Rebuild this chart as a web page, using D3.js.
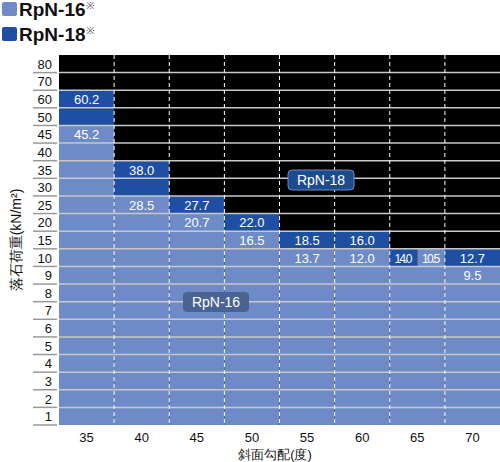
<!DOCTYPE html>
<html><head><meta charset="utf-8">
<script src="https://cdn.jsdelivr.net/npm/d3@7"></script>
<style>body{margin:0;background:#fff}text{font-family:"Liberation Sans",Arial,sans-serif}</style>
</head><body><svg id="c" width="500" height="462"></svg>
<script>
const rowCats = [80,70,60,50,45,40,35,30,25,20,15,10,9,8,7,6,5,4,3,2,1];
const slopes = [35,40,45,50,55,60,65,70];
const rpn16 = [45.2,28.5,20.7,16.5,13.7,12.0,10.5,9.5];
const rpn18 = [60.2,38.0,27.7,22.0,18.5,16.0,14.0,12.7];
const seriesNames = ["RpN-16","RpN-18"];
const c16 = "#6f8bc7", c18 = "#1f4fa3";

const svg = d3.select("#c");
const x = d3.scaleBand().domain(slopes).range([59,500]);
const y = d3.scaleBand().domain(rowCats).range([55,425]);
const asc = rowCats.slice().sort((a,b)=>a-b);
const rowOf = v => asc.filter(c=>c<=v).pop();
const idx = r => asc.indexOf(r);

svg.append("rect").attr("x",59).attr("y",55).attr("width",441).attr("height",370).attr("fill","#000");

slopes.forEach((s,i)=>{
  const r16 = rowOf(rpn16[i]), r18 = rowOf(rpn18[i]);
  const x0 = x(s), w = x.bandwidth();
  asc.forEach(r=>{
    let col=null;
    if (r16===r18){
      if (idx(r)<idx(r16)) col=c16;
      else if (r===r16){
        svg.append("rect").attr("x",x0).attr("y",y(r)).attr("width",w/2).attr("height",y.bandwidth()).attr("fill",c18);
        svg.append("rect").attr("x",x0+w/2).attr("y",y(r)).attr("width",w/2).attr("height",y.bandwidth()).attr("fill",c16);
      }
    } else {
      if (idx(r)<=idx(r16)) col=c16; else if (idx(r)<=idx(r18)) col=c18;
    }
    if (col) svg.append("rect").attr("x",x0).attr("y",y(r)).attr("width",w).attr("height",y.bandwidth()).attr("fill",col);
  });
});
// horizontal lines
rowCats.slice(1).forEach(r=>{
  svg.append("line").attr("x1",59).attr("x2",500).attr("y1",y(r)).attr("y2",y(r)).attr("stroke","#c8c8c8").attr("stroke-width",1.5);
});
// vertical dashed lines
slopes.slice(1).forEach(s=>{
  svg.append("line").attr("x1",x(s)).attr("x2",x(s)).attr("y1",55).attr("y2",425).attr("stroke","#fff").attr("stroke-width",1).attr("stroke-dasharray","4,3");
});
// value labels
slopes.forEach((s,i)=>{
  const r16 = rowOf(rpn16[i]), r18 = rowOf(rpn18[i]);
  const split = r16===r18;
  const cx = x(s)+x.bandwidth()/2;
  const fs = split?12:13;
  svg.append("text").attr("x",split?cx+x.bandwidth()/4:cx).attr("y",y(r16)+y.bandwidth()/2+5)
    .attr("text-anchor","middle").attr("fill","#fff").attr("font-size",fs).attr("textLength",split?18:null).text(rpn16[i].toFixed(1));
  svg.append("text").attr("x",split?cx-x.bandwidth()/4:cx).attr("y",y(r18)+y.bandwidth()/2+5)
    .attr("text-anchor","middle").attr("fill","#fff").attr("font-size",fs).attr("textLength",split?18:null).text(rpn18[i].toFixed(1));
});
// y axis labels and ticks
rowCats.forEach(r=>{
  svg.append("text").attr("x",52).attr("y",y(r)+y.bandwidth()/2+5).attr("text-anchor","end").attr("font-size",13).attr("fill","#111").text(r);
  svg.append("line").attr("x1",33).attr("x2",57).attr("y1",y(r)+y.bandwidth()).attr("y2",y(r)+y.bandwidth()).attr("stroke","#999").attr("stroke-width",1.5);
});
// x labels
slopes.forEach(s=>{
  svg.append("text").attr("x",x(s)+x.bandwidth()/2).attr("y",442).attr("text-anchor","middle").attr("font-size",13).attr("fill","#111").text(s);
});
svg.append("text").attr("x",275).attr("y",459).attr("text-anchor","middle").attr("font-size",13).attr("font-family","Noto Sans CJK JP").attr("fill","#111").text("斜面勾配(度)");
svg.append("text").attr("transform","translate(21,240) rotate(-90)").attr("text-anchor","middle").attr("font-size",14).attr("font-family","Noto Sans CJK JP").attr("fill","#111").text("落石荷重(kN/m²)");

// in-chart series tags
function tag(cx,cy,txt,fill,stroke){
  svg.append("rect").attr("x",cx-33).attr("y",cy-10).attr("width",66).attr("height",20).attr("rx",4).attr("fill",fill).attr("stroke",stroke);
  svg.append("text").attr("x",cx).attr("y",cy+5).attr("text-anchor","middle").attr("font-size",14).attr("fill","#fff").text(txt);
}
tag(321,180,seriesNames[1],"#1d4b8c","#6f8bc7");
tag(216,302,seriesNames[0],"#4a6395","none");

// legend
[[c16,seriesNames[0],2],[c18,seriesNames[1],27]].forEach(([c,t,yy])=>{
  svg.append("rect").attr("x",2).attr("y",yy).attr("width",15).attr("height",14).attr("rx",2).attr("fill",c);
  const tx = svg.append("text").attr("x",19).attr("y",yy+14).attr("font-size",19).attr("font-weight","bold").attr("fill","#111");
  tx.append("tspan").text(t);
  tx.append("tspan").attr("dy",-7).attr("font-size",10).attr("font-weight","normal").attr("fill","#555").text("※");
});
</script></body></html>
